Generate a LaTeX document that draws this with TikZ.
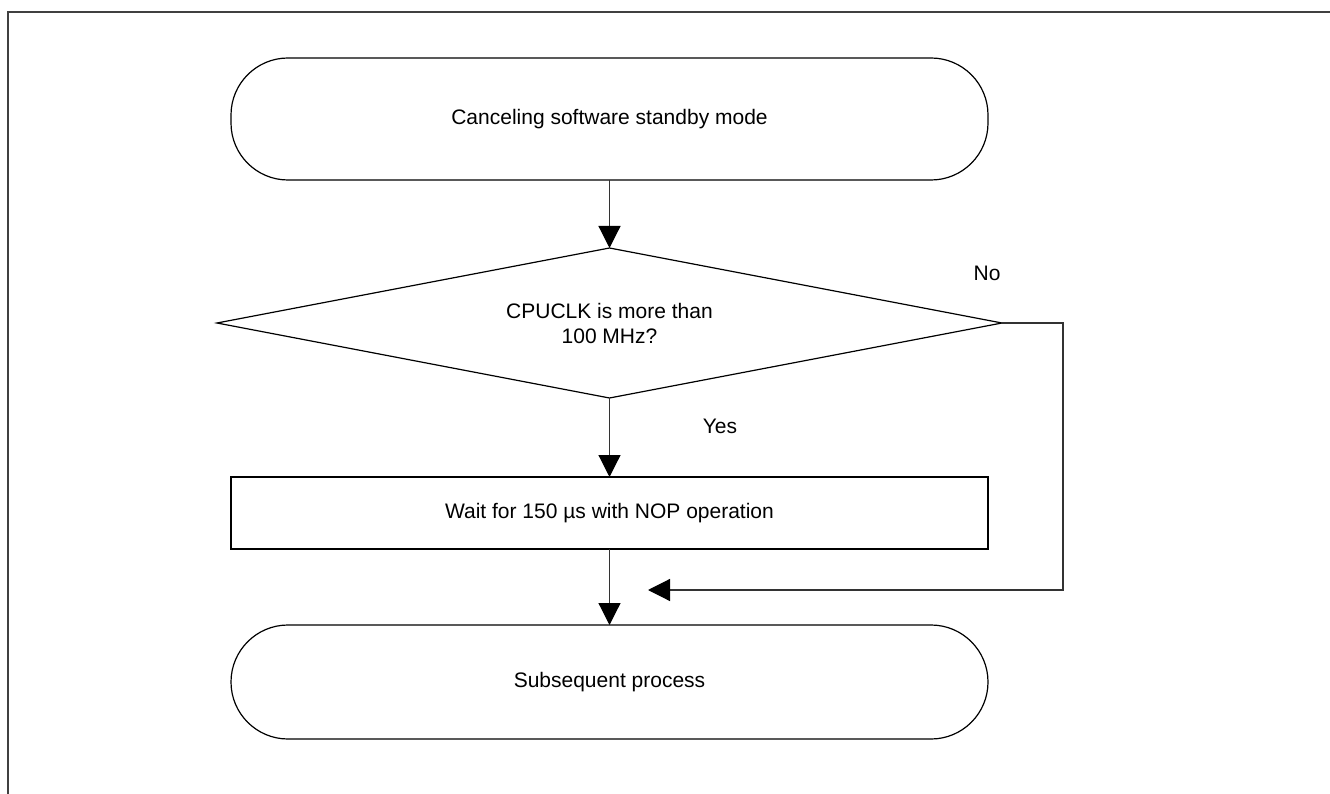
\documentclass[tikz,border=0pt]{standalone}
\usepackage{fontspec}
\setmainfont{Liberation Sans}
\usetikzlibrary{shapes.geometric,arrows.meta}

\begin{document}
\begin{tikzpicture}[x=1pt,y=-1pt,
  font=\fontsize{21}{25}\selectfont,
  terminal/.style={draw,line width=1.2pt,rounded corners=57pt,minimum width=757pt,inner sep=0pt,outer sep=0pt},
  process/.style={draw,line width=1.2pt,minimum width=757pt,minimum height=72pt,inner sep=0pt,outer sep=0pt},
  decision/.style={draw,diamond,aspect=5.23,line width=1.2pt,minimum width=785pt,minimum height=150pt,inner sep=0pt,outer sep=0pt,align=center},
  flow/.style={line width=1.2pt,black!80,-{Triangle[width=22pt,length=22pt,black]}},
  tag/.style={inner sep=0pt}]
\useasboundingbox (0,0) rectangle (1330,794);
\draw[line width=2pt,black!75] (8,794) -- (8,12) -- (1331,12);
\node[terminal,minimum height=122pt] (start) at (609.5,119) {Canceling software standby mode};
\node[decision] (check) at (609.5,323) {CPUCLK is more than\\100 MHz?};
\node[process] (wait) at (609.5,513) {Wait for 150 µs with NOP operation};
\node[terminal,minimum height=114pt] (done) at (609.5,682) {Subsequent process};
\node[tag] (yes) at (720,426) {Yes};
\node[tag] (no) at (987,273) {No};
% connectors
\coordinate (noright) at (1063,323);
\coordinate (notip) at (648,590);
\draw[flow] (start.south) -- (check.north);
\draw[flow] (check.south) -- (wait.north);
\draw[flow] (wait.south) -- (done.north);
\draw[flow] (check.east) -- (noright) |- (notip);
\end{tikzpicture}
\end{document}
